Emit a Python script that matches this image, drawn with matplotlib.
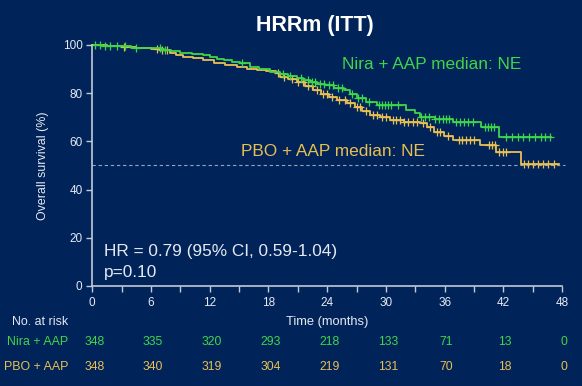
import numpy as np
import matplotlib
matplotlib.use('Agg')
import matplotlib.pyplot as plt
from matplotlib import transforms

plt.rcParams['font.family'] = ['Liberation Sans', 'DejaVu Sans']

# Kaplan-Meier steps (months, % surviving)
nira_t = [0, 1.0, 2.5, 4.0, 5.5, 7.0, 8.0, 9.0, 10.2, 11.3, 12.0, 12.7, 13.5, 14.3,
          15.1, 16.1, 17.0, 18.2, 19.2, 20.0, 20.9, 21.5, 22.2, 23.0, 23.8, 24.7,
          25.7, 26.3, 27.0, 28.0, 29.1, 32.1, 33.0, 33.5, 35.0, 36.9, 39.7, 41.6, 46.9]
nira_s = [100, 99.7, 99.4, 98.9, 98.6, 97.9, 97.4, 96.8, 96.3, 95.9, 95.2, 94.1, 93.6, 93.0,
          92.4, 91.0, 90.2, 88.9, 87.8, 87.0, 86.2, 85.5, 84.8, 84.0, 83.2, 82.3,
          81.3, 79.6, 77.9, 76.5, 75.1, 73.0, 71.6, 70.3, 69.4, 68.2, 66.1, 62.0, 62.0]

pbo_t = [0, 1.5, 3.0, 4.5, 6.0, 6.9, 7.9, 8.6, 9.3, 10.3, 11.3, 12.4, 13.6, 14.8, 15.8,
         16.8, 17.8, 18.8, 19.2, 20.0, 20.9, 21.7, 22.6, 23.4, 24.2, 25.0, 26.0, 26.8,
         27.6, 28.4, 29.4, 30.4, 31.8, 33.5, 34.2, 34.9, 35.9, 36.9, 39.6, 41.3, 43.8, 47.7]
pbo_s = [100, 99.6, 99.1, 98.6, 98.2, 97.9, 96.8, 96.0, 95.1, 94.4, 93.8, 92.4, 91.5, 90.7, 90.1,
         89.6, 89.0, 88.3, 86.9, 85.8, 84.5, 83.0, 81.3, 79.8, 78.5, 77.2, 75.8, 74.2,
         72.6, 71.0, 70.0, 68.9, 68.2, 67.5, 65.8, 64.0, 62.3, 60.6, 58.5, 55.5, 50.8, 50.8]

# censoring times (months)
nira_cens = [0.3, 0.8, 1.3, 1.8, 2.5, 3.3, 4.5, 6.9, 7.4, 15.3,
             19.5, 20.2, 21.3, 22.0, 22.4, 22.8, 23.3, 23.7, 24.2, 24.6, 25.1, 25.5,
             26.5, 27.2, 27.6, 28.3, 29.3, 29.6, 29.9, 30.2, 30.5, 31.2, 33.6, 34.0,
             34.4, 35.0, 35.4, 35.8, 36.1, 36.5, 37.2, 37.6, 38.0, 38.4, 38.9, 40.1,
             40.4, 40.7, 41.0, 42.3, 42.9, 43.5, 44.0, 44.6, 45.2, 45.8, 46.3, 46.8]
pbo_cens = [3.2, 6.6, 7.1, 7.6,
            19.0, 19.6, 20.4, 21.0, 21.5, 22.0, 22.4, 23.0, 23.6, 24.0, 24.5, 25.2,
            25.8, 26.3, 27.0, 27.4, 28.0, 28.7, 29.1, 29.6, 30.0, 30.7, 31.0, 31.4,
            31.8, 32.3, 32.8, 33.2, 33.8, 34.5, 35.2, 35.5, 36.3, 37.5, 37.8, 38.2,
            38.6, 39.0, 40.5, 40.8, 41.1, 41.6, 42.0, 42.3, 44.1, 44.5, 45.0, 45.5,
            46.1, 46.6, 47.2]

risk_times = [0, 6, 12, 18, 24, 30, 36, 42, 48]
nira_risk = [348, 335, 320, 293, 218, 133, 71, 13, 0]
pbo_risk = [348, 340, 319, 304, 219, 131, 70, 18, 0]

bg = '#00245a'
fg = '#e6e9f0'
axc = '#c4c9d6'
green = '#3fd64a'
yellow = '#e9bf52'

fig = plt.figure(figsize=(5.82, 3.86), dpi=100, facecolor=bg)
ax = fig.add_axes([0.1586, 0.2591, 0.8071, 0.6244], facecolor=bg)

def step_at(t, s, x):
	i = np.searchsorted(t, x, side='right') - 1
	return np.array(s)[i]

ax.axhline(50, xmin=0, xmax=1.006, ls=(0, (3, 2.5)), lw=0.8, color='#9aa3bb', clip_on=False)

for t, s, cens, col in [(pbo_t, pbo_s, pbo_cens, yellow), (nira_t, nira_s, nira_cens, green)]:
	ax.plot(t, s, drawstyle='steps-post', color=col, lw=1.3, clip_on=False)
	ax.plot(cens, step_at(t, s, cens), ls='none', marker='+', ms=6, mew=0.9,
		color=col, clip_on=False)

ax.set_xlim(0, 48)
ax.set_ylim(0, 100)
ax.set_xticks(risk_times)
ax.set_xticks(np.arange(3, 48, 6), minor=True)
ax.set_yticks([0, 20, 40, 60, 80, 100])
for sp in ['top', 'right']:
	ax.spines[sp].set_visible(False)
for sp in ['left', 'bottom']:
	ax.spines[sp].set_color(axc)
	ax.spines[sp].set_linewidth(1.2)
ax.tick_params(which='both', direction='out', length=4, width=1, color=axc,
	labelcolor=fg, labelsize=8.5)
ax.tick_params(axis='x', pad=4)
ax.tick_params(axis='y', pad=3)

ax.text(25.5, 92.1, 'Nira + AAP median: NE', color=green, fontsize=12.4, va='center')
ax.text(15.2, 55.7, 'PBO + AAP median: NE', color=yellow, fontsize=12.4, va='center')
ax.text(1.2, 14.2, 'HR = 0.79 (95% CI, 0.59-1.04)', color=fg, fontsize=12.4, va='center')
ax.text(1.2, 5.5, 'p=0.10', color=fg, fontsize=12.4, va='center')

fig.text(0.541, 0.935, 'HRRm (ITT)', color='white', fontsize=15.5, fontweight='bold',
	ha='center', va='center')
fig.text(0.074, 0.57, 'Overall survival (%)', color=fg, fontsize=8.9, rotation=90,
	ha='center', va='center')

trans = transforms.blended_transform_factory(ax.transData, fig.transFigure)
ax.text(24, 0.1666, 'Time (months)', transform=trans, color=fg, fontsize=9.3,
	ha='center', va='center')
fig.text(0.117, 0.1666, 'No. at risk', color=fg, fontsize=8.9, ha='right', va='center')
fig.text(0.117, 0.1132, 'Nira + AAP', color=green, fontsize=8.9, ha='right', va='center')
fig.text(0.117, 0.050, 'PBO + AAP', color=yellow, fontsize=8.9, ha='right', va='center')
for x, a, b in zip(risk_times, nira_risk, pbo_risk):
	ax.text(x + 0.2, 0.1132, str(a), transform=trans, color=green, fontsize=8.7,
		ha='center', va='center', clip_on=False)
	ax.text(x + 0.2, 0.050, str(b), transform=trans, color=yellow, fontsize=8.7,
		ha='center', va='center', clip_on=False)

fig.savefig('out.png', dpi=100, facecolor=bg)
